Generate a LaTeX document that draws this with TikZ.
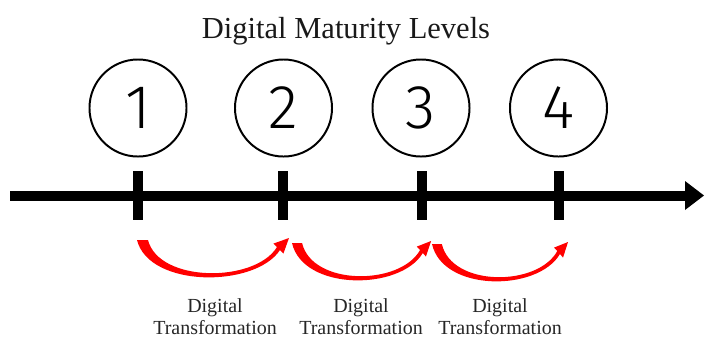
\documentclass[tikz,border=0pt]{standalone}
\usepackage{fontspec}
\setmainfont{Liberation Serif}
\newfontfamily\levelfont{Fira Sans Light}
\usetikzlibrary{calc}
\def\turnarrow(#1)[#2]{\begin{scope}[shift={(#1)}, xscale=#2]\fill[red] (0,0) .. controls (12,48) and (118,48) .. (143,10) -- (146.4,13.6) -- (152,-2) -- (136.4,3.6) -- (140,7) .. controls (118,43) and (22,43) .. (11,0) -- cycle;\end{scope}}

\begin{document}
\begin{tikzpicture}[x=0.025cm, y=-0.025cm]
		%%%%% START %%%%%
		\useasboundingbox (0, 0) rectangle (705, 338);
		
		\node[anchor=base, text=black!90, font=\fontsize{21.7}{24}\selectfont] (title) at (346, 38) {Digital Maturity Levels};
		
		\node[circle, draw, line width=1.4pt, minimum size=2.425cm, inner sep=0, font=\levelfont\fontsize{44}{48}\selectfont] (lvl1) at (138, 108) {1};
		\node[circle, draw, line width=1.4pt, minimum size=2.425cm, inner sep=0, font=\levelfont\fontsize{44}{48}\selectfont] (lvl2) at (283.5, 108) {2};
		\node[circle, draw, line width=1.4pt, minimum size=2.425cm, inner sep=0, font=\levelfont\fontsize{44}{48}\selectfont] (lvl3) at (421, 108) {3};
		\node[circle, draw, line width=1.4pt, minimum size=2.425cm, inner sep=0, font=\levelfont\fontsize{44}{48}\selectfont] (lvl4) at (558.5, 108) {4};
		
		\fill[black] (10, 190.5) rectangle (686, 200.5);
		\fill[black] (685, 181) -- (704, 195.5) -- (685, 210) -- cycle;
		
		\fill[black] (133, 171) rectangle (143, 220);
		\fill[black] (278, 171) rectangle (288, 220);
		\fill[black] (417, 171) rectangle (427, 220);
		\fill[black] (554, 171) rectangle (564, 220);
		
		\turnarrow(137, 240)[1];
		\turnarrow(292, 243)[0.915];
		\turnarrow(432, 244)[0.895];
		
		\node[align=center, text=black!85, font=\fontsize{14.2}{15.6}\selectfont] (dt1) at (215, 317) {Digital\\Transformation};
		\node[align=center, text=black!85, font=\fontsize{14.2}{15.6}\selectfont] (dt2) at (361, 317) {Digital\\Transformation};
		\node[align=center, text=black!85, font=\fontsize{14.2}{15.6}\selectfont] (dt3) at (500, 317) {Digital\\Transformation};
		
		%%%%% END %%%%%
\end{tikzpicture}
\end{document}
